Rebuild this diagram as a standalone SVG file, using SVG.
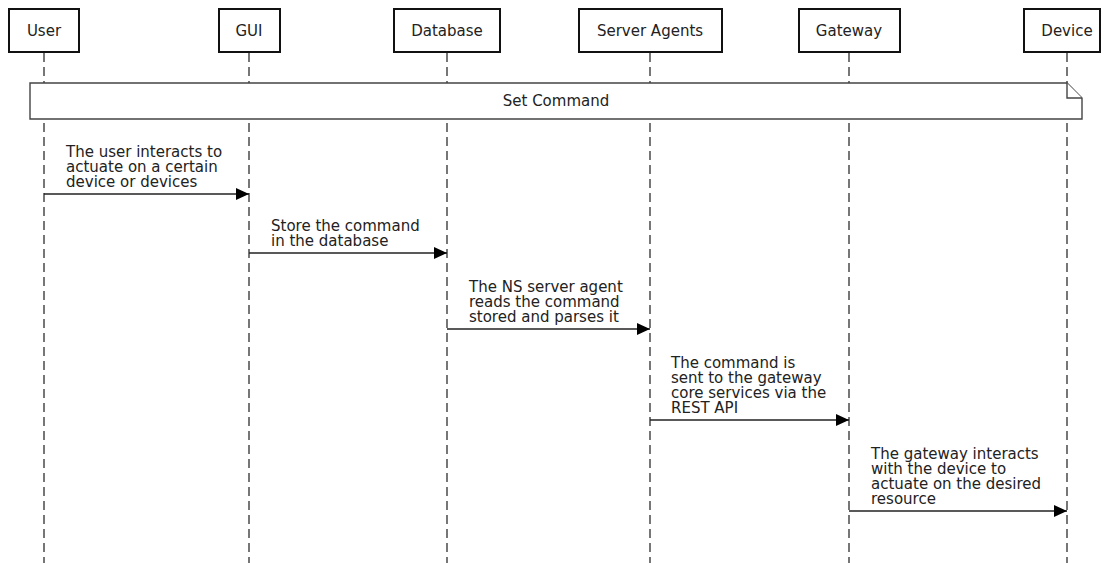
<svg xmlns="http://www.w3.org/2000/svg" width="1106" height="563" viewBox="0 0 1106 563">
  <style>
    text { font-family: "DejaVu Sans", "Liberation Sans", sans-serif; font-size: 15px; fill: #222; }
    .head rect { fill: #fff; stroke: #111; stroke-width: 2; }
    .head text { text-anchor: middle; }
    .life { stroke: #555; stroke-width: 1.6; stroke-dasharray: 9 5; fill: none; }
    .msg { stroke: #222; stroke-width: 1.4; fill: none; marker-end: url(#arrow); }
    .note { fill: #fff; stroke: #444; stroke-width: 1.4; }
  </style>
  <defs>
    <marker id="arrow" viewBox="0 0 13 12" refX="13" refY="6" markerWidth="13" markerHeight="12" markerUnits="userSpaceOnUse" orient="auto">
      <path d="M0,0 L13,6 L0,12 Z" fill="#000"/>
    </marker>
  </defs>
  <rect width="1106" height="563" fill="#fff"/>

  <!-- lifelines -->
  <g id="lifelines">
    <line class="life" x1="44" y1="53" x2="44" y2="563"/>
    <line class="life" x1="249" y1="53" x2="249" y2="563"/>
    <line class="life" x1="447" y1="53" x2="447" y2="563"/>
    <line class="life" x1="650" y1="53" x2="650" y2="563"/>
    <line class="life" x1="849" y1="53" x2="849" y2="563"/>
    <line class="life" x1="1067" y1="53" x2="1067" y2="563"/>
  </g>

  <!-- participants -->
  <g id="user" class="head"><rect x="9" y="9" width="70" height="43"/><text x="44" y="36">User</text></g>
  <g id="gui" class="head"><rect x="219" y="9" width="61" height="43"/><text x="249" y="36">GUI</text></g>
  <g id="database" class="head"><rect x="394" y="9" width="106" height="43"/><text x="447" y="36">Database</text></g>
  <g id="server-agents" class="head"><rect x="579" y="9" width="143" height="43"/><text x="650" y="36">Server Agents</text></g>
  <g id="gateway" class="head"><rect x="799" y="9" width="101" height="43"/><text x="849" y="36">Gateway</text></g>
  <g id="device" class="head"><rect x="1024" y="9" width="76" height="43"/><text x="1067" y="36">Device</text></g>

  <!-- note spanning all participants -->
  <g id="set-command">
    <path class="note" d="M30,83 H1067 L1082,98 V119 H30 Z"/>
    <path class="note" d="M1067,83 V98 H1082" fill="none"/>
    <text x="556" y="106" text-anchor="middle">Set Command</text>
  </g>

  <!-- messages -->
  <g id="connectors">
    <line class="msg" x1="44" y1="194" x2="249" y2="194"/>
    <line class="msg" x1="249" y1="253" x2="447" y2="253"/>
    <line class="msg" x1="447" y1="329" x2="650" y2="329"/>
    <line class="msg" x1="650" y1="420" x2="849" y2="420"/>
    <line class="msg" x1="849" y1="511" x2="1067" y2="511"/>
  </g>

  <g id="labels">
    <text x="66" y="157">The user interacts to</text>
    <text x="66" y="172">actuate on a certain</text>
    <text x="66" y="187">device or devices</text>

    <text x="271" y="231">Store the command</text>
    <text x="271" y="246">in the database</text>

    <text x="469" y="292">The NS server agent</text>
    <text x="469" y="307">reads the command</text>
    <text x="469" y="322">stored and parses it</text>

    <text x="671" y="368">The command is</text>
    <text x="671" y="383">sent to the gateway</text>
    <text x="671" y="398">core services via the</text>
    <text x="671" y="413">REST API</text>

    <text x="871" y="459">The gateway interacts</text>
    <text x="871" y="474">with the device to</text>
    <text x="871" y="489">actuate on the desired</text>
    <text x="871" y="504">resource</text>
  </g>
</svg>
